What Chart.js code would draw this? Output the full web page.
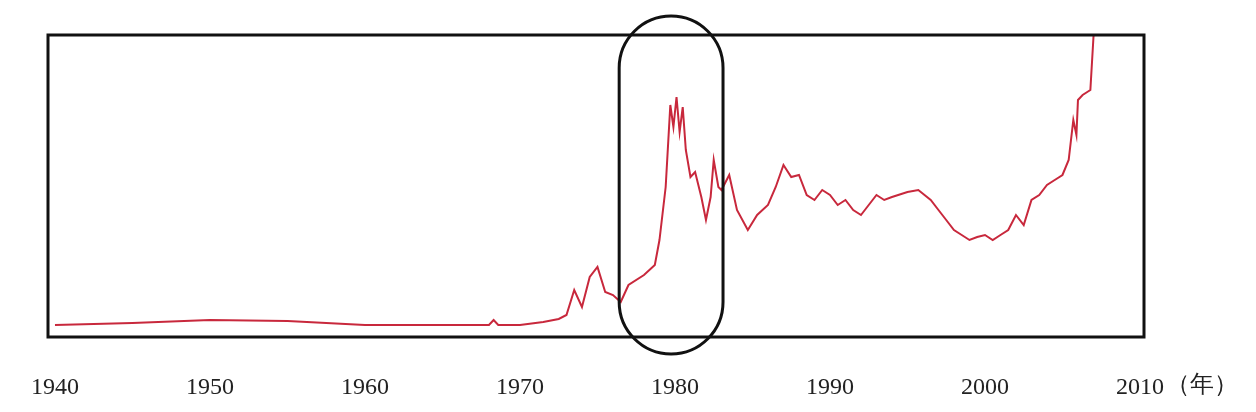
<!DOCTYPE html>
<html><head><meta charset="utf-8">
<script src="https://cdn.jsdelivr.net/npm/chart.js@4"></script>
<style>html,body{margin:0;padding:0;background:#fff}#c{display:block}</style>
</head><body>
<canvas id="c" width="1256" height="412"></canvas>
<script>
const years = [1940,1945,1950,1955,1960,1968,1968.3,1968.6,1970,1971.5,1972.5,1973,1973.5,1974,1974.5,1975,1975.5,1976,1976.5,1977,1978,1978.7,1979,1979.4,1979.7,1979.9,1980.1,1980.3,1980.5,1980.7,1981,1981.3,1981.7,1982,1982.3,1982.5,1982.8,1983,1983.5,1984,1984.7,1985.3,1986,1986.5,1987,1987.5,1988,1988.5,1989,1989.5,1990,1990.5,1991,1991.5,1992,1992.5,1993,1993.5,1994,1995,1995.7,1996.5,1997,1997.5,1998,1998.5,1999,1999.5,2000,2000.5,2001,2001.5,2002,2002.5,2003,2003.5,2004,2004.5,2005,2005.4,2005.7,2005.9,2006,2006.3,2006.8,2007.0,2007.2];
const values = [12,14,17,16,12,12,17,12,12,15,18,22,47,30,60,70,45,42,35,52,62,72,97,150,232,210,240,205,230,187,160,165,140,117,140,177,150,147,162,127,107,122,132,150,172,160,162,142,137,147,142,132,137,127,122,132,142,137,140,145,147,137,127,117,107,102,97,100,102,97,102,107,122,112,137,142,152,157,162,177,217,202,237,242,247,300,330];
const xTicks = [1940,1950,1960,1970,1980,1990,2000,2010];

const deco = {
  id:'deco',
  afterDraw(chart){
    const {ctx, chartArea:a, scales:{x}} = chart;
    ctx.save();
    ctx.strokeStyle='#111'; ctx.lineWidth=3;
    ctx.strokeRect(a.left,a.top,a.right-a.left,a.bottom-a.top);
    const l=x.getPixelForValue(1976.4), r=x.getPixelForValue(1983.1), t=16, b=354, rad=(r-l)/2;
    ctx.beginPath();
    ctx.moveTo(l,t+rad); ctx.arcTo(l,t,l+rad,t,rad); ctx.arcTo(r,t,r,t+rad,rad);
    ctx.lineTo(r,b-rad); ctx.arcTo(r,b,r-rad,b,rad); ctx.arcTo(l,b,l,b-rad,rad); ctx.closePath();
    ctx.lineWidth=3; ctx.stroke();
    ctx.fillStyle='#222'; ctx.font='24px "Liberation Serif"'; ctx.textBaseline='middle';
    ctx.fillText('（年）', x.getPixelForValue(2010)+26, 386);
    ctx.restore();
  }
};

new Chart(document.getElementById('c'),{
  type:'line',
  data:{datasets:[{data:years.map((y,i)=>({x:y,y:values[i]})),borderColor:'#c8283c',borderWidth:2,pointRadius:0,tension:0}]},
  options:{
    responsive:false,animation:false,
    layout:{padding:{left:48,right:112,top:35,bottom:0}},
    plugins:{legend:{display:false},tooltip:{enabled:false}},
    scales:{
      x:{type:'linear',min:1939.55,max:2010.26,
        afterBuildTicks(s){s.ticks=xTicks.map(v=>({value:v}));},
        afterFit(s){s.height=75;s.paddingLeft=0;s.paddingRight=0;},
        grid:{display:false,drawTicks:false},border:{display:false},
        ticks:{padding:36,maxRotation:0,autoSkip:false,color:'#222',callback:v=>String(v),font:{family:'Liberation Serif',size:24}}},
      y:{display:false,min:0,max:302}
    }
  },
  plugins:[deco]
});
</script>
</body></html>
